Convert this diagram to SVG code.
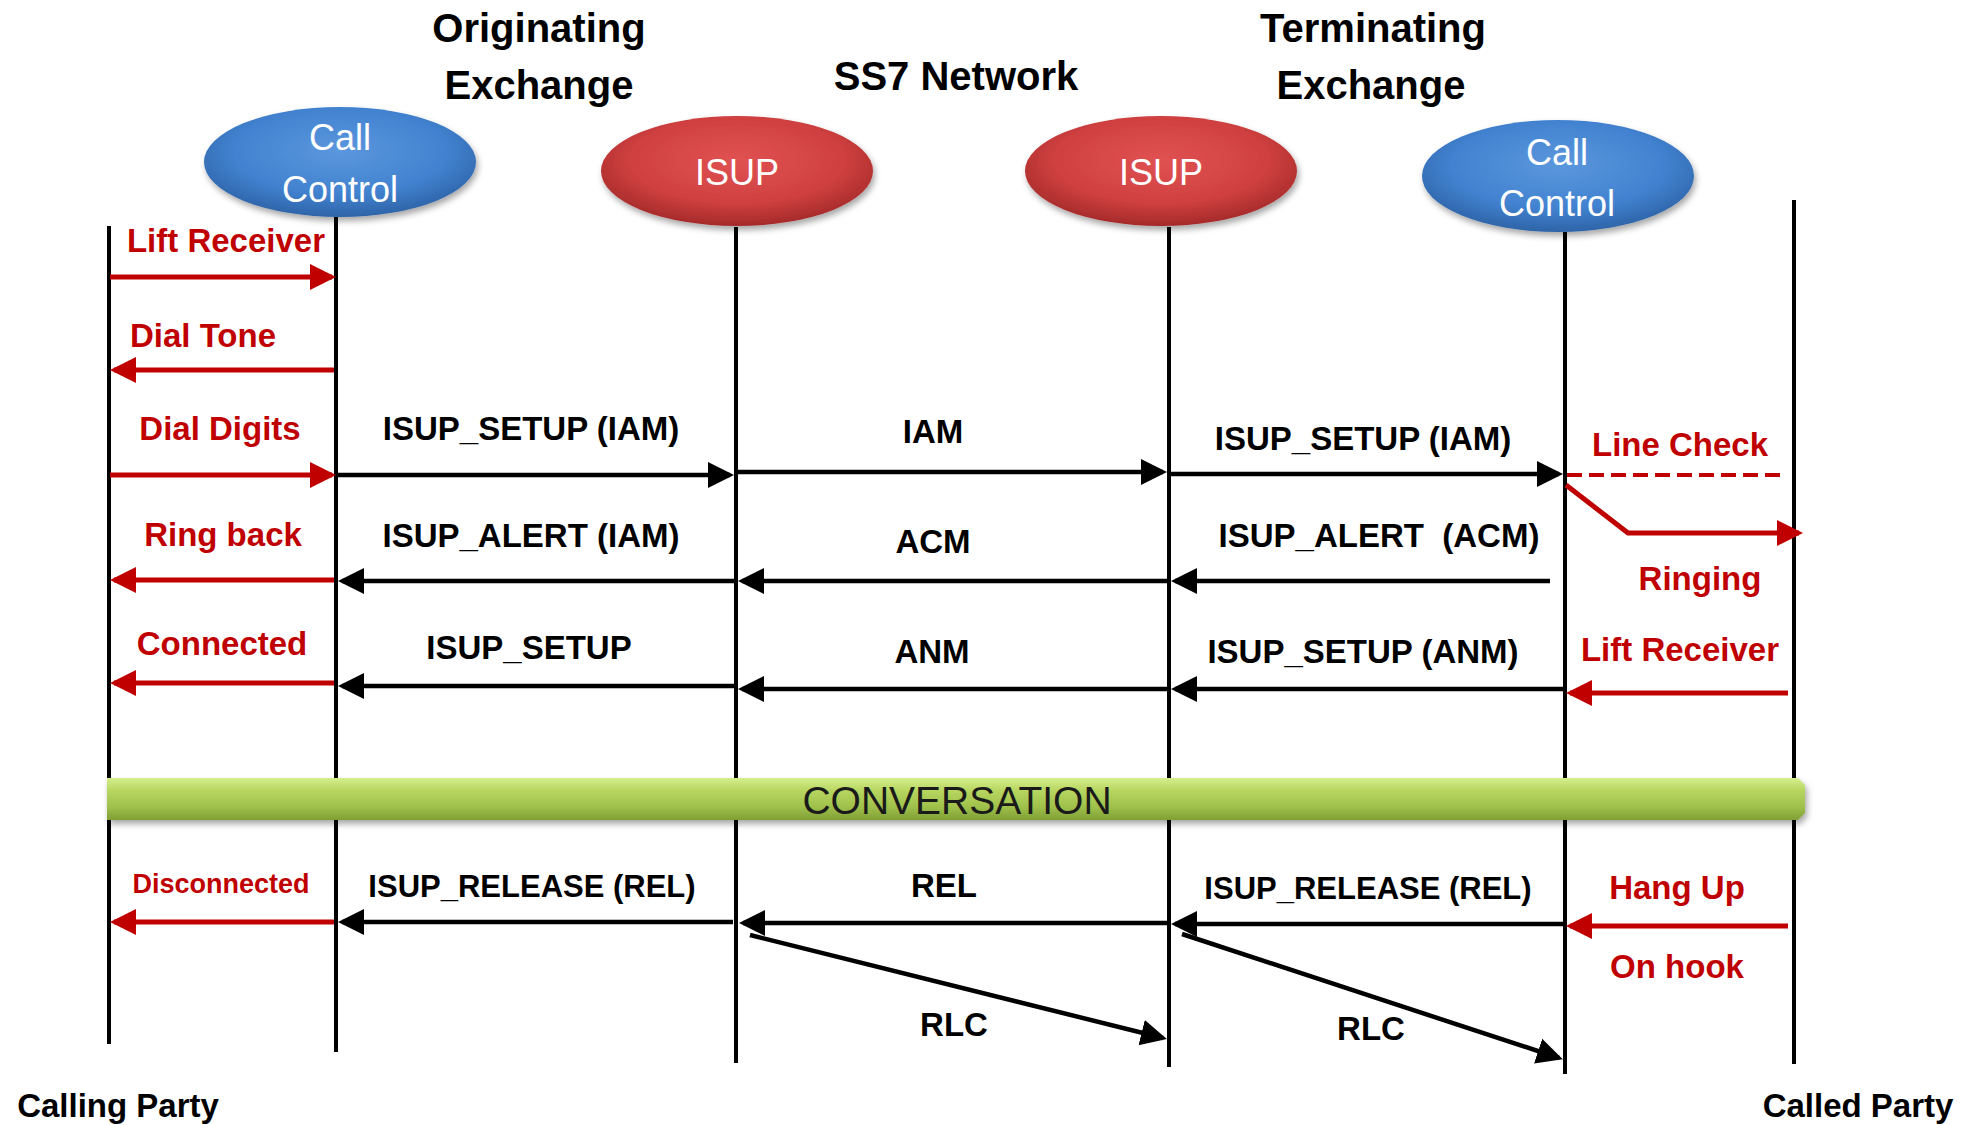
<svg xmlns="http://www.w3.org/2000/svg" width="1969" height="1125" viewBox="0 0 1969 1125">
<defs>
<style>
.lbl{font-family:"Liberation Sans",Arial,sans-serif;font-weight:bold;font-size:33px;fill:#000;text-anchor:middle}
.red{fill:#C00000}
.sm{font-size:31px}
.title{font-family:"Liberation Sans",Arial,sans-serif;font-weight:bold;font-size:40px;fill:#000;text-anchor:middle}
.node{font-family:"Liberation Sans",Arial,sans-serif;font-size:36px;fill:#fff;text-anchor:middle}
.life{stroke:#000;stroke-width:4;fill:none}
.blk{stroke:#000;stroke-width:4.5;fill:none;marker-end:url(#ab)}
.rd{stroke:#C00000;stroke-width:5;fill:none;marker-end:url(#ar)}
</style>
<marker id="ab" markerUnits="userSpaceOnUse" markerWidth="28" markerHeight="28" refX="22" refY="13" orient="auto" viewBox="0 0 28 26">
<path d="M0,0 L26,13 L0,26 z" fill="#000"/>
</marker>
<marker id="ar" markerUnits="userSpaceOnUse" markerWidth="28" markerHeight="28" refX="22" refY="13" orient="auto" viewBox="0 0 28 26">
<path d="M0,0 L26,13 L0,26 z" fill="#C00000"/>
</marker>
<radialGradient id="gb" cx="50%" cy="40%" r="60%">
<stop offset="0" stop-color="#5b97dd"/>
<stop offset="0.65" stop-color="#4282d0"/>
<stop offset="1" stop-color="#2e64a8"/>
</radialGradient>
<radialGradient id="gr" cx="50%" cy="40%" r="60%">
<stop offset="0" stop-color="#e05252"/>
<stop offset="0.65" stop-color="#d04040"/>
<stop offset="1" stop-color="#a52a2a"/>
</radialGradient>
<linearGradient id="gg" x1="0" y1="0" x2="0" y2="1">
<stop offset="0" stop-color="#d6ee8e"/>
<stop offset="0.3" stop-color="#b7d660"/>
<stop offset="0.7" stop-color="#9ec04a"/>
<stop offset="1" stop-color="#7f9e35"/>
</linearGradient>
<filter id="sh" x="-20%" y="-30%" width="140%" height="170%">
<feDropShadow dx="2" dy="4" stdDeviation="3" flood-color="#000" flood-opacity="0.35"/>
</filter>
</defs>
<rect width="1969" height="1125" fill="#fff"/>

<g id="titles">
<text class="title" x="539" y="42">Originating</text>
<text class="title" x="539" y="99">Exchange</text>
<text class="title" x="956" y="90">SS7 Network</text>
<text class="title" x="1373" y="42">Terminating</text>
<text class="title" x="1371" y="99">Exchange</text>
<text class="lbl" x="118" y="1117">Calling Party</text>
<text class="lbl" x="1858" y="1117">Called Party</text>
</g>

<g id="lifelines">
<line class="life" x1="109" y1="226" x2="109" y2="1044"/>
<line class="life" x1="336" y1="217" x2="336" y2="1052"/>
<line class="life" x1="736" y1="227" x2="736" y2="1063"/>
<line class="life" x1="1169" y1="227" x2="1169" y2="1067"/>
<line class="life" x1="1565" y1="232" x2="1565" y2="1074"/>
<line class="life" x1="1794" y1="200" x2="1794" y2="1064"/>
</g>

<g id="cc-orig">
<ellipse cx="340" cy="162" rx="136" ry="55" fill="url(#gb)" filter="url(#sh)"/>
<text class="node" x="340" y="150">Call</text>
<text class="node" x="340" y="202">Control</text>
</g>
<g id="isup-orig">
<ellipse cx="737" cy="171" rx="136" ry="55" fill="url(#gr)" filter="url(#sh)"/>
<text class="node" x="737" y="185">ISUP</text>
</g>
<g id="isup-term">
<ellipse cx="1161" cy="171" rx="136" ry="55" fill="url(#gr)" filter="url(#sh)"/>
<text class="node" x="1161" y="185">ISUP</text>
</g>
<g id="cc-term">
<ellipse cx="1558" cy="176" rx="136" ry="56" fill="url(#gb)" filter="url(#sh)"/>
<text class="node" x="1557" y="165">Call</text>
<text class="node" x="1557" y="216">Control</text>
</g>

<g id="conversation">
<path d="M107,778 L1798,778 L1805,785 L1805,813 L1798,820 L107,820 Z" fill="url(#gg)" filter="url(#sh)"/>
<text x="957" y="814" font-family="Liberation Sans, Arial, sans-serif" font-size="39" fill="#1a1a1a" text-anchor="middle">CONVERSATION</text>
</g>

<g id="connectors">
<line class="rd" x1="110" y1="277" x2="332" y2="277"/>
<line class="rd" x1="334" y1="370" x2="114" y2="370"/>
<line class="rd" x1="110" y1="475" x2="332" y2="475"/>
<line class="rd" x1="334" y1="580" x2="114" y2="580"/>
<line class="rd" x1="334" y1="683" x2="114" y2="683"/>
<line class="rd" x1="334" y1="922" x2="114" y2="922"/>
<line stroke="#C00000" stroke-width="4" stroke-dasharray="15,7" x1="1567" y1="475" x2="1786" y2="475"/>
<polyline class="rd" points="1566,485 1628,533 1799,533"/>
<line class="rd" x1="1788" y1="693" x2="1570" y2="693"/>
<line class="rd" x1="1788" y1="926" x2="1570" y2="926"/>

<line class="blk" x1="338" y1="475" x2="730" y2="475"/>
<line class="blk" x1="738" y1="472" x2="1163" y2="472"/>
<line class="blk" x1="1171" y1="474" x2="1559" y2="474"/>
<line class="blk" x1="734" y1="581" x2="342" y2="581"/>
<line class="blk" x1="1167" y1="581" x2="742" y2="581"/>
<line class="blk" x1="1550" y1="581" x2="1175" y2="581"/>
<line class="blk" x1="734" y1="686" x2="342" y2="686"/>
<line class="blk" x1="1167" y1="689" x2="742" y2="689"/>
<line class="blk" x1="1563" y1="689" x2="1175" y2="689"/>
<line class="blk" x1="733" y1="922" x2="342" y2="922"/>
<line class="blk" x1="1167" y1="923" x2="743" y2="923"/>
<line class="blk" x1="1563" y1="924" x2="1175" y2="924"/>
<line class="blk" x1="750" y1="935" x2="1163" y2="1038"/>
<line class="blk" x1="1182" y1="934" x2="1559" y2="1058"/>
</g>

<g id="labels">
<text class="lbl red" x="226" y="252">Lift Receiver</text>
<text class="lbl red" x="203" y="347">Dial Tone</text>
<text class="lbl red" x="220" y="440">Dial Digits</text>
<text class="lbl red" x="223" y="546">Ring back</text>
<text class="lbl red" x="222" y="655">Connected</text>
<text class="lbl red" x="221" y="893" style="font-size:27px">Disconnected</text>
<text class="lbl red" x="1680" y="456">Line Check</text>
<text class="lbl red" x="1700" y="590">Ringing</text>
<text class="lbl red" x="1680" y="661">Lift Receiver</text>
<text class="lbl red" x="1677" y="899">Hang Up</text>
<text class="lbl red" x="1677" y="978">On hook</text>

<text class="lbl" x="531" y="440">ISUP_SETUP (IAM)</text>
<text class="lbl" x="933" y="443">IAM</text>
<text class="lbl" x="1363" y="450">ISUP_SETUP (IAM)</text>
<text class="lbl" x="531" y="547">ISUP_ALERT (IAM)</text>
<text class="lbl" x="933" y="553">ACM</text>
<text class="lbl" x="1379" y="547" xml:space="preserve">ISUP_ALERT  (ACM)</text>
<text class="lbl" x="529" y="659">ISUP_SETUP</text>
<text class="lbl" x="932" y="663">ANM</text>
<text class="lbl" x="1363" y="663">ISUP_SETUP (ANM)</text>
<text class="lbl sm" x="532" y="897">ISUP_RELEASE (REL)</text>
<text class="lbl" x="944" y="897">REL</text>
<text class="lbl sm" x="1368" y="899">ISUP_RELEASE (REL)</text>
<text class="lbl" x="954" y="1036">RLC</text>
<text class="lbl" x="1371" y="1040">RLC</text>
</g>
</svg>
